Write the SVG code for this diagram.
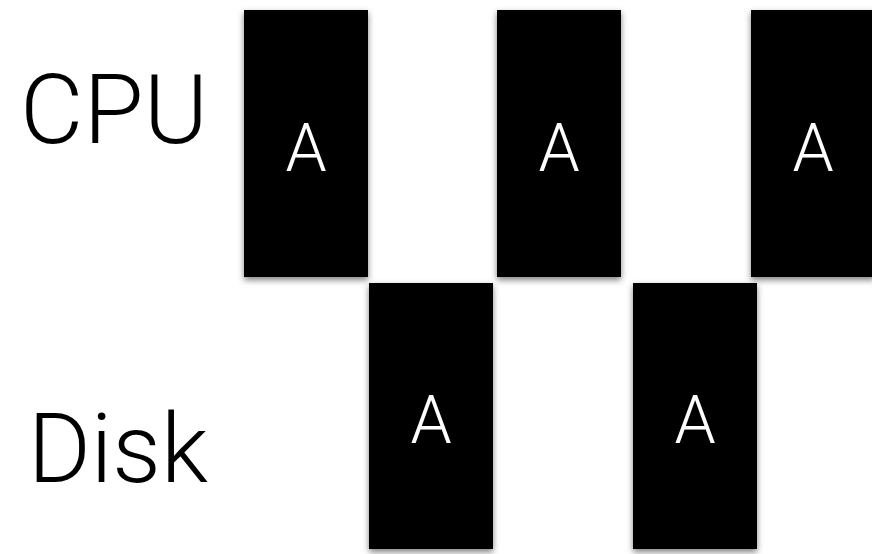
<svg xmlns="http://www.w3.org/2000/svg" width="872" height="554" viewBox="0 0 872 554">
<defs>
<filter id="sh" x="-20%" y="-20%" width="140%" height="140%">
<feDropShadow dx="0" dy="3" stdDeviation="3" flood-color="#000" flood-opacity="0.5"/>
</filter>
<style>
.blk{fill:#000;filter:url(#sh)}
.a{font-family:Roboto,"Liberation Sans",sans-serif;font-weight:300;font-size:66px;fill:#fff;text-anchor:middle}
.lbl{font-family:Roboto,"Liberation Sans",sans-serif;font-weight:300;font-size:97px;fill:#000}
</style>
</defs>
<rect width="872" height="554" fill="#fff"/>
<g id="label-cpu"><text class="lbl" x="20" y="143" textLength="188" lengthAdjust="spacingAndGlyphs">CPU</text></g>
<g id="label-disk"><text class="lbl" x="28" y="482" textLength="180" lengthAdjust="spacingAndGlyphs">Disk</text></g>
<g id="cpu1"><rect class="blk" x="244" y="10" width="124" height="267"/><text class="a" x="306" y="171">A</text></g>
<g id="cpu2"><rect class="blk" x="497" y="10" width="124" height="267"/><text class="a" x="559" y="171">A</text></g>
<g id="cpu3"><rect class="blk" x="751" y="10" width="124" height="267"/><text class="a" x="813" y="171">A</text></g>
<g id="disk1"><rect class="blk" x="369" y="283" width="124" height="266"/><text class="a" x="431" y="443">A</text></g>
<g id="disk2"><rect class="blk" x="633" y="283" width="124" height="266"/><text class="a" x="695" y="443">A</text></g>
<g id="connectors"/>
</svg>
